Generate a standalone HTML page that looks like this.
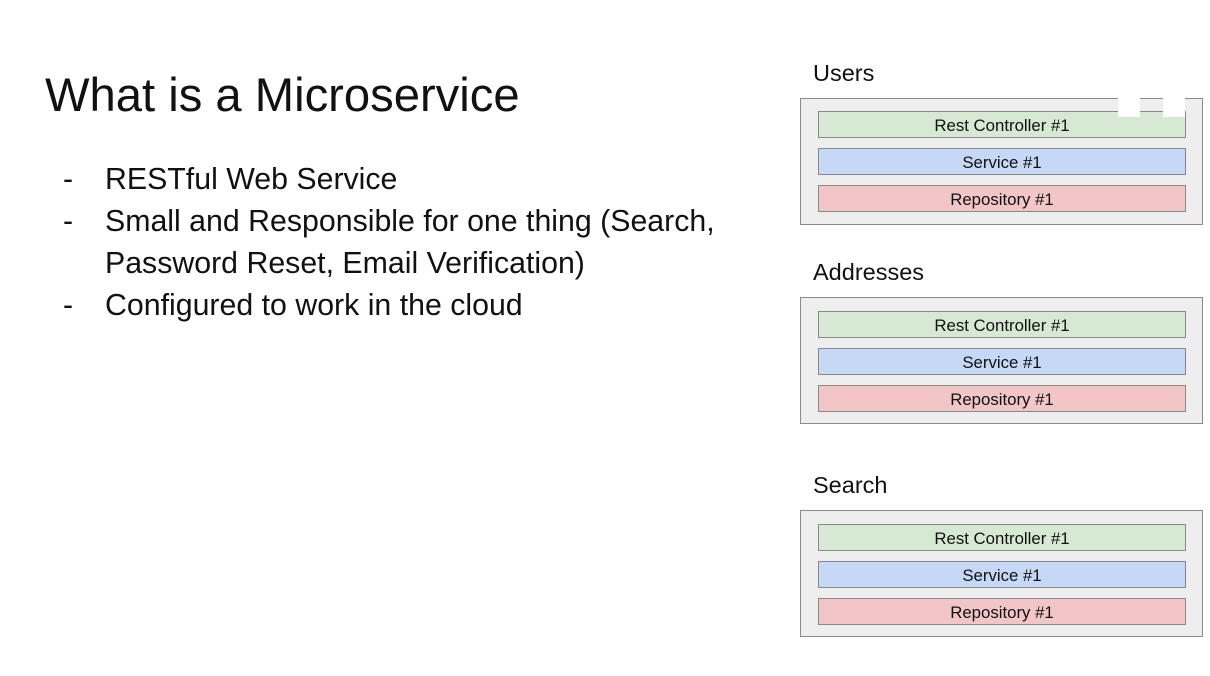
<!DOCTYPE html>
<html><head><style>
body{margin:0;width:1210px;height:676px;background:#fff;position:relative;font-family:"Liberation Sans",Arial,sans-serif;color:#111;overflow:hidden}
.t{position:absolute;white-space:nowrap}
.box{position:absolute;left:800px;width:401px;height:125px;background:#eeeeee;border:1px solid #8a8a8a}
.bar{position:absolute;left:17px;width:366px;height:25px;border:1px solid #888;font-size:16.8px;text-align:center;line-height:27px;color:#111}
.g{background:#d6e9d2}.b{background:#c5d8f5}.r{background:#f2c6c6}
.lab{position:absolute;left:813px;font-size:23.5px}
.l{font-size:30.3px}
</style></head><body>
<div class="t" style="left:45px;top:68px;font-size:47.2px">What is a Microservice</div>
<div class="t l" style="left:63px;top:163px">-</div>
<div class="t l" style="left:105px;top:163px">RESTful Web Service</div>
<div class="t l" style="left:63px;top:205px">-</div>
<div class="t l" style="left:105px;top:205px">Small and Responsible for one thing (Search,</div>
<div class="t l" style="left:105px;top:247px">Password Reset, Email Verification)</div>
<div class="t l" style="left:63px;top:289px">-</div>
<div class="t l" style="left:105px;top:289px">Configured to work in the cloud</div>

<div class="lab" style="top:60px">Users</div>
<div class="box" style="top:98px">
<div class="bar g" style="top:12px">Rest Controller #1</div>
<div class="bar b" style="top:49px">Service #1</div>
<div class="bar r" style="top:86px">Repository #1</div>
</div>
<div style="position:absolute;left:1118px;top:97px;width:22px;height:20px;background:#fff"></div>
<div style="position:absolute;left:1163px;top:97px;width:22px;height:20px;background:#fff"></div>

<div class="lab" style="top:259px">Addresses</div>
<div class="box" style="top:297px">
<div class="bar g" style="top:13px">Rest Controller #1</div>
<div class="bar b" style="top:50px">Service #1</div>
<div class="bar r" style="top:87px">Repository #1</div>
</div>

<div class="lab" style="top:472px">Search</div>
<div class="box" style="top:510px">
<div class="bar g" style="top:13px">Rest Controller #1</div>
<div class="bar b" style="top:50px">Service #1</div>
<div class="bar r" style="top:87px">Repository #1</div>
</div>
</body></html>
